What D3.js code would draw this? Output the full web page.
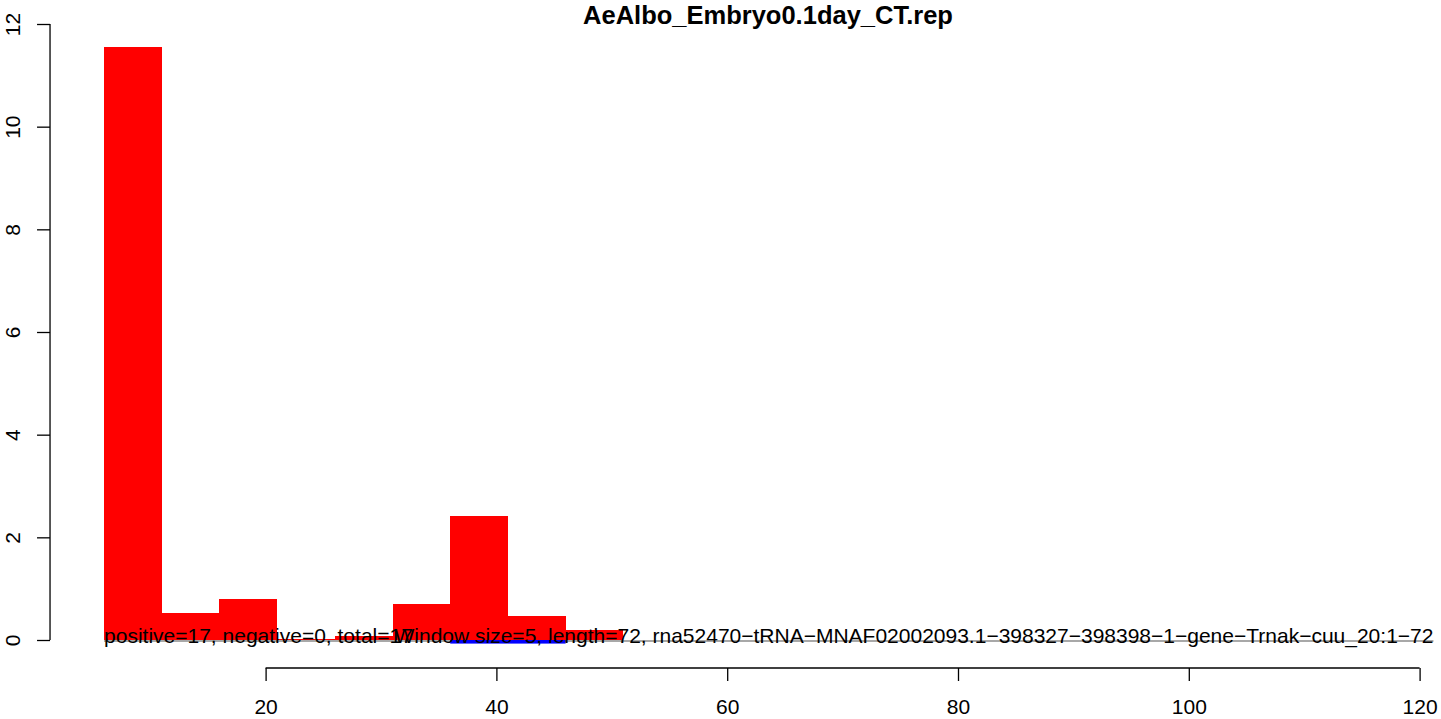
<!DOCTYPE html>
<html>
<head>
<meta charset="utf-8">
<script src="https://cdn.jsdelivr.net/npm/d3@7"></script>
<style>
  html, body { margin: 0; padding: 0; background: #fff; }
  svg { display: block; }
  text { font-family: "Liberation Sans", Arial, Helvetica, sans-serif; fill: #000; }
</style>
</head>
<body>
<svg id="chart" width="1441" height="719"></svg>
<script>
// ---- data ----
const title = "AeAlbo_Embryo0.1day_CT.rep";
const binStart = [6, 11, 16, 21, 26, 31, 36, 41, 46];
const windowSize = 5;
const positiveValues = [11.55, 0.53, 0.80, 0.02, 0.08, 0.71, 2.42, 0.47, 0.195];
const negativeValues = [0, 0, 0, 0, 0, 0, -0.07, -0.07, 0];
const baselineRange = [6, 121.2];
const xTicks = [20, 40, 60, 80, 100, 120];
const yTicks = [0, 2, 4, 6, 8, 10, 12];
const leftLabel = "positive=17, negative=0, total=17";
const rightLabel = "Window size=5, length=72, rna52470\u2212tRNA\u2212MNAF02002093.1\u2212398327\u2212398398\u22121\u2212gene\u2212Trnak\u2212cuu_20:1\u221272";

// ---- layout ----
const svg = d3.select("#chart");
const x = d3.scaleLinear().domain([0, 120]).range([34.8, 1419.6]);
const y = d3.scaleLinear().domain([0, 12]).range([640, 24]);
const fs = "21px";

// positive bars
svg.append("g").selectAll("rect").data(binStart).join("rect")
  .attr("x", (d) => x(d))
  .attr("width", (d) => x(d + windowSize) - x(d))
  .attr("y", (d, i) => y(positiveValues[i]))
  .attr("height", (d, i) => y(0) - y(positiveValues[i]))
  .attr("fill", "#ff0000")
  .attr("shape-rendering", "crispEdges");

// baseline
svg.append("line")
  .attr("x1", x(baselineRange[0])).attr("x2", x(baselineRange[1]))
  .attr("y1", y(0) + 1).attr("y2", y(0) + 1)
  .attr("stroke", "#a8a8a8").attr("stroke-width", 2);

// negative bars
svg.append("g").selectAll("rect").data(binStart.filter((d, i) => negativeValues[i] < 0)).join("rect")
  .attr("x", (d) => x(d))
  .attr("width", (d) => x(d + windowSize) - x(d))
  .attr("y", y(0))
  .attr("height", (d) => y(negativeValues[binStart.indexOf(d)]) - y(0))
  .attr("fill", "#0000ff");

// y axis
const yAxis = svg.append("g").attr("transform", `translate(${x(1.32)},0)`)
  .call(d3.axisLeft(y).tickValues(yTicks).tickSize(13).tickPadding(0).tickFormat(d3.format("d")));
yAxis.select(".domain").attr("d", `M0,${y(0)}V${y(12)}`).attr("stroke", "#000").attr("stroke-width", 1.3);
yAxis.selectAll(".tick line").attr("stroke", "#000").attr("stroke-width", 1.3);
yAxis.selectAll(".tick text")
  .attr("transform", "rotate(-90)")
  .attr("x", 0).attr("y", -37)
  .attr("dy", "0.35em")
  .attr("text-anchor", "middle")
  .style("font-size", fs)
  .style("font-family", '"Liberation Sans", Arial, sans-serif')
  .attr("fill", "#000");

// x axis
const xAxis = svg.append("g").attr("transform", `translate(0,668)`)
  .call(d3.axisBottom(x).tickValues(xTicks).tickSize(13).tickPadding(0).tickFormat(d3.format("d")));
xAxis.select(".domain").attr("d", `M${x(20)},0H${x(120)}`).attr("stroke", "#000").attr("stroke-width", 1.3);
xAxis.selectAll(".tick line").attr("stroke", "#000").attr("stroke-width", 1.3);
xAxis.selectAll(".tick text")
  .attr("y", 46).attr("dy", 0)
  .style("font-size", fs)
  .style("font-family", '"Liberation Sans", Arial, sans-serif')
  .attr("fill", "#000");

// title
svg.append("text")
  .attr("x", 768).attr("y", 23.5)
  .attr("text-anchor", "middle")
  .style("font-size", "25.5px")
  .style("font-weight", "bold")
  .text(title);

// annotations
svg.append("text")
  .attr("x", x(baselineRange[0])).attr("y", y(0) + 3)
  .attr("text-anchor", "start")
  .style("font-size", fs)
  .text(leftLabel);
svg.append("text")
  .attr("x", x(baselineRange[1])).attr("y", y(0) + 3)
  .attr("text-anchor", "end")
  .style("font-size", fs)
  .text(rightLabel);
</script>
</body>
</html>
